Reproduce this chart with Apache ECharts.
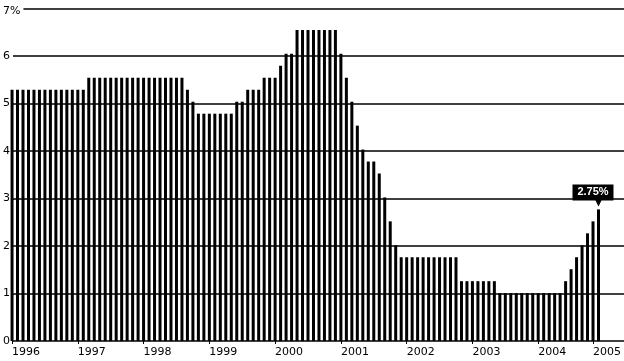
<!DOCTYPE html>
<html>
<head>
<meta charset="utf-8">
<script src="https://cdn.jsdelivr.net/npm/echarts@6/dist/echarts.min.js"></script>
<style>
html,body{margin:0;padding:0;background:#fff;}
#chart{width:624px;height:361px;}
</style>
</head>
<body>
<div id="chart"></div>
<script>
// Monthly target rate, Jan 1996 .. Dec 2004 (percent)
const rates = [
  5.25,5.25,5.25,5.25,5.25,5.25,5.25,5.25,5.25,5.25,5.25,5.25, // 1996
  5.25,5.25,5.5,5.5,5.5,5.5,5.5,5.5,5.5,5.5,5.5,5.5,           // 1997
  5.5,5.5,5.5,5.5,5.5,5.5,5.5,5.5,5.25,5.0,4.75,4.75,          // 1998
  4.75,4.75,4.75,4.75,4.75,5.0,5.0,5.25,5.25,5.25,5.5,5.5,     // 1999
  5.5,5.75,6.0,6.0,6.5,6.5,6.5,6.5,6.5,6.5,6.5,6.5,            // 2000
  6.0,5.5,5.0,4.5,4.0,3.75,3.75,3.5,3.0,2.5,2.0,1.75,          // 2001
  1.75,1.75,1.75,1.75,1.75,1.75,1.75,1.75,1.75,1.75,1.25,1.25, // 2002
  1.25,1.25,1.25,1.25,1.25,1.0,1.0,1.0,1.0,1.0,1.0,1.0,        // 2003
  1.0,1.0,1.0,1.0,1.0,1.25,1.5,1.75,2.0,2.25,2.5,2.75          // 2004
];
const startYear = 1996;
const months = rates.map((v, i) => (startYear + Math.floor(i / 12)) + '-' + String(i % 12 + 1).padStart(2, '0'));
const yearLabels = ['1996','1997','1998','1999','2000','2001','2002','2003','2004','2005'];
const yearTickIndex = [0,12,24,36,48,60,72,84,96,106];
const yTicks = [0,1,2,3,4,5,6,7];
const lastIdx = rates.length - 1;
const lastValue = rates[lastIdx];

const chart = echarts.init(document.getElementById('chart'), null, {renderer: 'canvas'});
const font = 'DejaVu Sans';
chart.setOption({
  animation: false,
  backgroundColor: '#fff',
  grid: [
    {left: 10, right: 0, top: 6, bottom: 20},
    {left: 9.3, right: 21.8, top: 6, bottom: 20}
  ],
  xAxis: [
    {gridIndex: 0, type: 'value', show: false, min: 0, max: 1},
    {
      gridIndex: 1, type: 'category', data: months,
      axisLine: {show: false},
      axisTick: {
        show: true, alignWithLabel: true, length: 3,
        lineStyle: {color: '#000', width: 1},
        interval: (i) => yearTickIndex.includes(i)
      },
      axisLabel: {
        interval: (i) => yearTickIndex.includes(i),
        formatter: (v, i) => {
          const k = yearTickIndex.indexOf(i);
          return k >= 0 ? yearLabels[k] : '';
        },
        align: 'left', margin: 6,
        color: '#000', fontFamily: font, fontSize: 11
      }
    }
  ],
  yAxis: [
    {
      gridIndex: 0, type: 'value', min: 0, max: 7, interval: 1,
      axisLine: {show: false}, axisTick: {show: false},
      splitLine: {show: true, lineStyle: {color: '#000', width: 1.5}},
      axisLabel: {
        align: 'left', margin: 10,
        color: '#000', fontFamily: font, fontSize: 11,
        formatter: (v) => v === yTicks[yTicks.length - 1] ? '{top|' + v + '%}' : String(v),
        rich: {
          top: {color: '#000', fontFamily: font, fontSize: 11, backgroundColor: '#fff', padding: [6, 3, 0, 0]}
        }
      }
    },
    {gridIndex: 1, type: 'value', min: 0, max: 7, interval: 1, show: false, splitLine: {show: false}}
  ],
  series: [{
    type: 'bar',
    xAxisIndex: 1, yAxisIndex: 1,
    data: rates,
    barWidth: 3,
    itemStyle: {color: '#000'},
    z: 1,
    markPoint: {
      silent: true,
      data: [{
        coord: [lastIdx, lastValue],
        symbol: 'path://M0,0 H41 V16 H29 L26,22 L23,16 H0 Z',
        symbolSize: [41, 22],
        symbolOffset: [-5.5, -14],
        itemStyle: {color: '#000'},
        label: {
          show: true, position: 'inside', offset: [0, -3],
          formatter: lastValue.toFixed(2) + '%',
          color: '#fff', fontWeight: 'bold', fontSize: 11, fontFamily: 'Liberation Sans'
        }
      }]
    }
  }]
});
</script>
</body>
</html>
